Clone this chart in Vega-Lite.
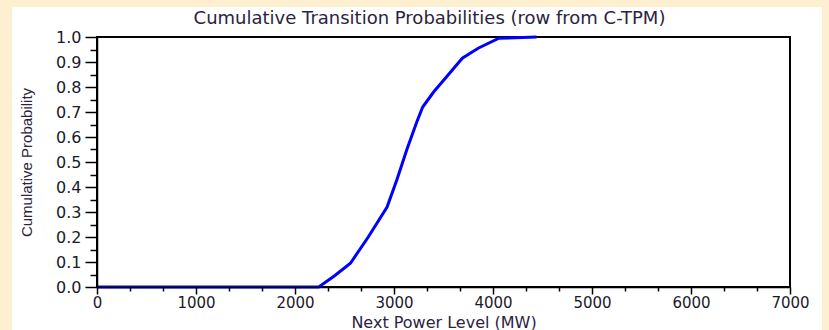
{
  "$schema": "https://vega.github.io/schema/vega-lite/v6.json",
  "width": 693,
  "height": 250,
  "autosize": {"type": "none"},
  "padding": {"left": 97, "top": 37, "right": 39, "bottom": 43},
  "background": "#FDF0D0",
  "config": {
    "view": {"stroke": null, "fill": null},
    "font": "DejaVu Sans",
    "axis": {"labelOverlap": false, "labelFlush": false, "labelBound": false, "tickCount": 100}
  },
  "title": {
    "text": "Cumulative Transition Probabilities (row from C-TPM)",
    "font": "DejaVu Sans",
    "fontSize": 18,
    "fontWeight": "normal",
    "color": "#2a2440",
    "offset": 10,
    "dx": -14,
    "dy": 30
  },
  "data": {
    "values": [
      {"power": 0, "prob": 0},
      {"power": 2240, "prob": 0},
      {"power": 2400, "prob": 0.045},
      {"power": 2560, "prob": 0.095},
      {"power": 2740, "prob": 0.2},
      {"power": 2930, "prob": 0.32},
      {"power": 3030, "prob": 0.43},
      {"power": 3130, "prob": 0.55},
      {"power": 3230, "prob": 0.66},
      {"power": 3290, "prob": 0.72},
      {"power": 3400, "prob": 0.78},
      {"power": 3540, "prob": 0.845},
      {"power": 3690, "prob": 0.915},
      {"power": 3850, "prob": 0.955},
      {"power": 4060, "prob": 0.995},
      {"power": 4230, "prob": 0.997},
      {"power": 4440, "prob": 1.0}
    ]
  },
  "layer": [
    {
      "mark": {"type": "rect", "fill": "#FFFFFF", "clip": false},
      "encoding": {
        "x": {"datum": -851, "type": "quantitative"},
        "x2": {"datum": 7320},
        "y": {"datum": 1.117, "type": "quantitative"},
        "y2": {"datum": -0.4}
      }
    },
    {
      "mark": {"type": "rect", "fill": null, "stroke": "#000000", "strokeWidth": 1.5, "clip": false},
      "encoding": {
        "x": {"datum": 0, "type": "quantitative"},
        "x2": {"datum": 7000},
        "y": {"datum": 1, "type": "quantitative"},
        "y2": {"datum": 0}
      }
    },
    {
      "mark": {"type": "line", "color": "#0000FF", "strokeWidth": 3, "clip": false},
      "encoding": {
        "x": {
          "field": "power",
          "type": "quantitative",
          "scale": {"domain": [0, 7000], "nice": false, "zero": false},
          "axis": {
            "zindex": 1,
            "tickCount": 100,
            "title": "Next Power Level (MW)",
            "titleFont": "DejaVu Sans",
            "titleFontSize": 16,
            "titleFontWeight": "normal",
            "titleColor": "#2a2440",
            "titlePadding": 4,
            "values": [0, 333.33, 666.67, 1000, 1333.33, 1666.67, 2000, 2333.33, 2666.67, 3000, 3333.33, 3666.67, 4000, 4333.33, 4666.67, 5000, 5333.33, 5666.67, 6000, 6333.33, 6666.67, 7000],
            "labelExpr": "abs(datum.value/1000 - round(datum.value/1000)) < 0.01 ? format(round(datum.value), 'd') : ''",
            "labelFont": "DejaVu Sans",
            "labelFontSize": 15,
            "labelColor": "#1a1a2a",
            "labelPadding": 1,
            "labelFlush": false,
            "labelOverlap": false,
            "grid": false,
            "domainColor": "#000000",
            "domainWidth": 1.5,
            "tickColor": "#000000",
            "tickWidth": 1.5,
            "tickSize": {"condition": {"test": "abs(datum.value/1000 - round(datum.value/1000)) < 0.01", "value": 7}, "value": 4}
          }
        },
        "y": {
          "field": "prob",
          "type": "quantitative",
          "scale": {"domain": [0, 1], "nice": false, "zero": false},
          "axis": {
            "zindex": 1,
            "tickCount": 100,
            "title": "Cumulative Probability",
            "titleFont": "Liberation Sans",
            "titleFontSize": 15,
            "titleFontWeight": "normal",
            "titleColor": "#2a2440",
            "titlePadding": 21,
            "values": [0, 0.05, 0.1, 0.15, 0.2, 0.25, 0.3, 0.35, 0.4, 0.45, 0.5, 0.55, 0.6, 0.65, 0.7, 0.75, 0.8, 0.85, 0.9, 0.95, 1.0],
            "labelExpr": "abs(datum.value*10 - round(datum.value*10)) < 0.01 ? format(datum.value, '.1f') : ''",
            "labelFont": "DejaVu Sans",
            "labelFontSize": 16,
            "labelColor": "#1a1a2a",
            "labelPadding": 4,
            "labelFlush": false,
            "labelOverlap": false,
            "grid": false,
            "domainColor": "#000000",
            "domainWidth": 1.5,
            "tickColor": "#000000",
            "tickWidth": 1.5,
            "tickSize": {"condition": {"test": "abs(datum.value*10 - round(datum.value*10)) < 0.01", "value": 12}, "value": 7}
          }
        }
      }
    }
  ]
}
